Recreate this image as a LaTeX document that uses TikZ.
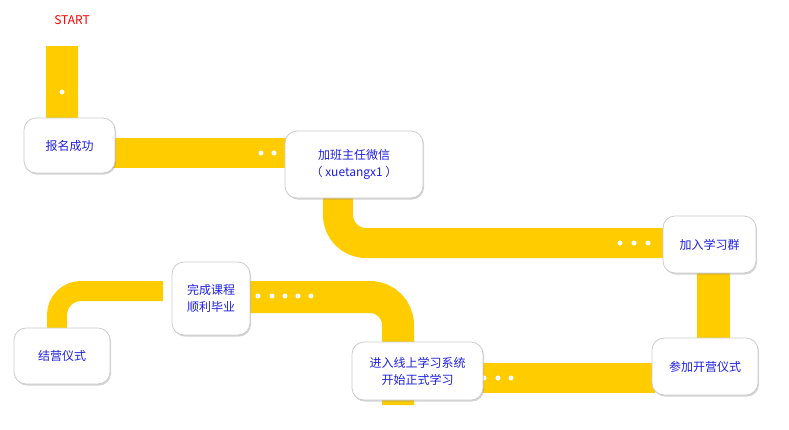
\documentclass[tikz,border=0pt]{standalone}
\usepackage{fontspec}
\newfontfamily\cjk{Noto Sans CJK SC}
\usetikzlibrary{shadows}
\definecolor{ybar}{HTML}{FFCC00}
\definecolor{tblue}{HTML}{1F1FE0}
\tikzset{
 bar/.style={draw=ybar,line width=30pt},
 card/.style={draw=gray!40,fill=white,rounded corners=12pt,line width=0.8pt,
   drop shadow={shadow xshift=1pt,shadow yshift=-1.5pt,opacity=0.35},
   font=\cjk\fontsize{12pt}{17pt}\selectfont,text=tblue,align=center,inner sep=0pt},
 wdot/.style={circle,fill=white,inner sep=0pt,minimum size=5pt}
}
\begin{document}
\begin{tikzpicture}[x=1pt,y=-1pt]
\useasboundingbox (0,0) rectangle (789,429);
\node[text=red,font=\cjk\fontsize{12pt}{14pt}\selectfont] (start) at (72,20) {START};
% bars
\draw[bar,line width=32pt] (62,46) -- (62,130);
\draw[bar] (110,153) -- (292,153);
\draw[bar,rounded corners=28pt] (338,190) -- (338,243) -- (670,243);
\draw[bar,line width=33pt] (713,268) -- (713,345);
\draw[bar] (655,378) -- (478,378);
\draw[bar,line width=32pt,rounded corners=28pt] (398,405) -- (398,297) -- (245,297);
\draw[bar,line width=20pt,rounded corners=24pt] (163,291) -- (57,291) -- (57,335);
% dots
\foreach \p in {(62,92),(261,153),(274,153),(620,243),(634,243),(648,243),(484,378),(498,378),(511,378),(258,296),(272,296),(285,296),(298,296),(311,296)}
  \node[wdot] at \p {};
% cards
\node[card,minimum width=91pt,minimum height=55pt] (a) at (69.5,145.5) {报名成功};
\node[card,minimum width=138pt,minimum height=67pt] (b) at (354,164.5) {加班主任微信\\（ xuetangx1 ）};
\node[card,minimum width=93pt,minimum height=57pt] (c) at (709.5,244.5) {加入学习群};
\node[card,minimum width=106pt,minimum height=57pt] (d) at (705,366.5) {参加开营仪式};
\node[card,minimum width=131pt,minimum height=58pt] (e) at (417.5,371) {进入线上学习系统\\开始正式学习};
\node[card,minimum width=78pt,minimum height=73pt] (f) at (211,298.5) {完成课程\\顺利毕业};
\node[card,minimum width=96pt,minimum height=56pt] (g) at (62,356) {结营仪式};
\end{tikzpicture}
\end{document}
